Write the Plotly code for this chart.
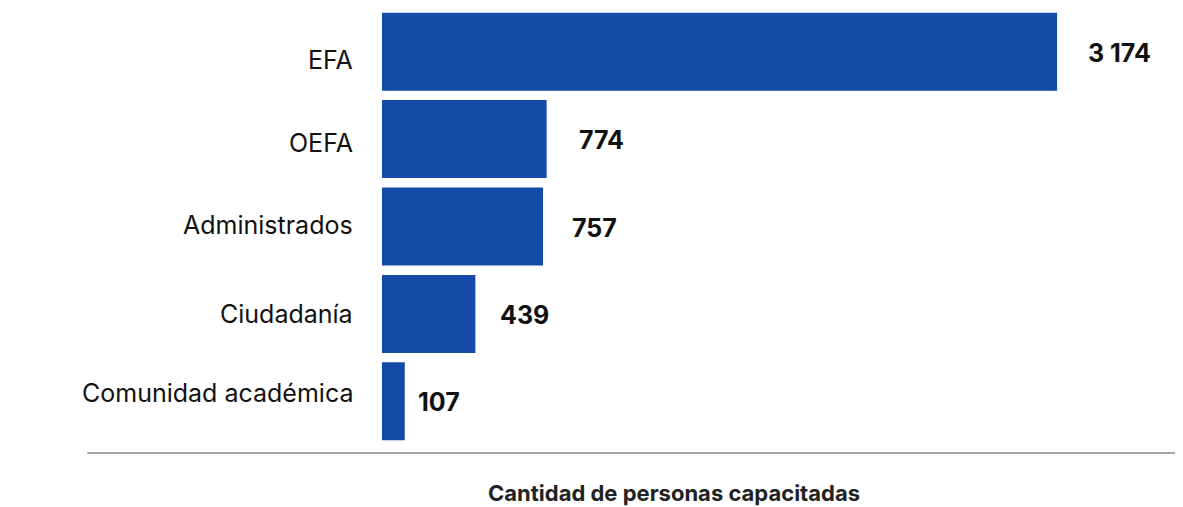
import plotly.graph_objects as go

# Data (top to bottom as shown)
categories = ["EFA", "OEFA", "Administrados", "Ciudadanía", "Comunidad académica"]
personas = [3174, 774, 757, 439, 107]
value_labels = ["3 174", "774", "757", "439", "107"]

BAR_COLOR = "#154AA8"
FONT = "Inter"
# px offsets: value label gap after each bar end, and the category labels'
# vertical nudge (the source spreads them a little tighter than the bars)
_VALUE_GAP = [29, 30, 27, 23, 11]
_CAT_NUDGE = [-8.5, -3.5, 2, -0.5, 8.5]

n = len(categories)

fig = go.Figure(
    go.Bar(
        x=personas,
        y=categories,
        orientation="h",
        marker=dict(color=BAR_COLOR, line=dict(width=0)),
        hoverinfo="x+y",
    )
)

# category labels left of the bars
for cat, nudge in zip(categories, _CAT_NUDGE):
    fig.add_annotation(
        x=0, y=cat, xref="paper", yref="y", text=cat,
        xanchor="right", yanchor="middle", showarrow=False,
        xshift=-27, yshift=nudge,
        font=dict(family=FONT, size=25, color="#111111"),
    )

# value labels to the right of each bar
for cat, val, lab, gap in zip(categories, personas, value_labels, _VALUE_GAP):
    fig.add_annotation(
        x=val, y=cat, text=f"<b>{lab}</b>",
        xanchor="left", showarrow=False, xshift=gap, yshift=-1,
        font=dict(family=FONT, size=25, color="#111111"),
    )

# baseline rule under the bars
fig.add_shape(
    type="line", xref="paper", yref="paper",
    x0=-0.368, x1=1.0, y0=-0.0183, y1=-0.0183,
    line=dict(color="#8a8a8a", width=1.5),
)

fig.add_annotation(
    text="<b>Cantidad de personas capacitadas</b>",
    xref="paper", yref="paper", x=0.3645, y=-0.11,
    xanchor="center", yanchor="middle", showarrow=False,
    font=dict(family=FONT, size=22, color="#222222"),
)

fig.update_layout(
    width=1175, height=499,
    margin=dict(l=374, r=0, t=0, b=62),
    paper_bgcolor="white", plot_bgcolor="white",
    bargap=0.108,
    showlegend=False,
    xaxis=dict(range=[0, 3766], visible=False, fixedrange=True),
    yaxis=dict(
        range=[n - 0.5, -0.5], showgrid=False, zeroline=False, showline=False,
        showticklabels=False, ticks="", fixedrange=True,
    ),
)

fig.write_html("out.html")
